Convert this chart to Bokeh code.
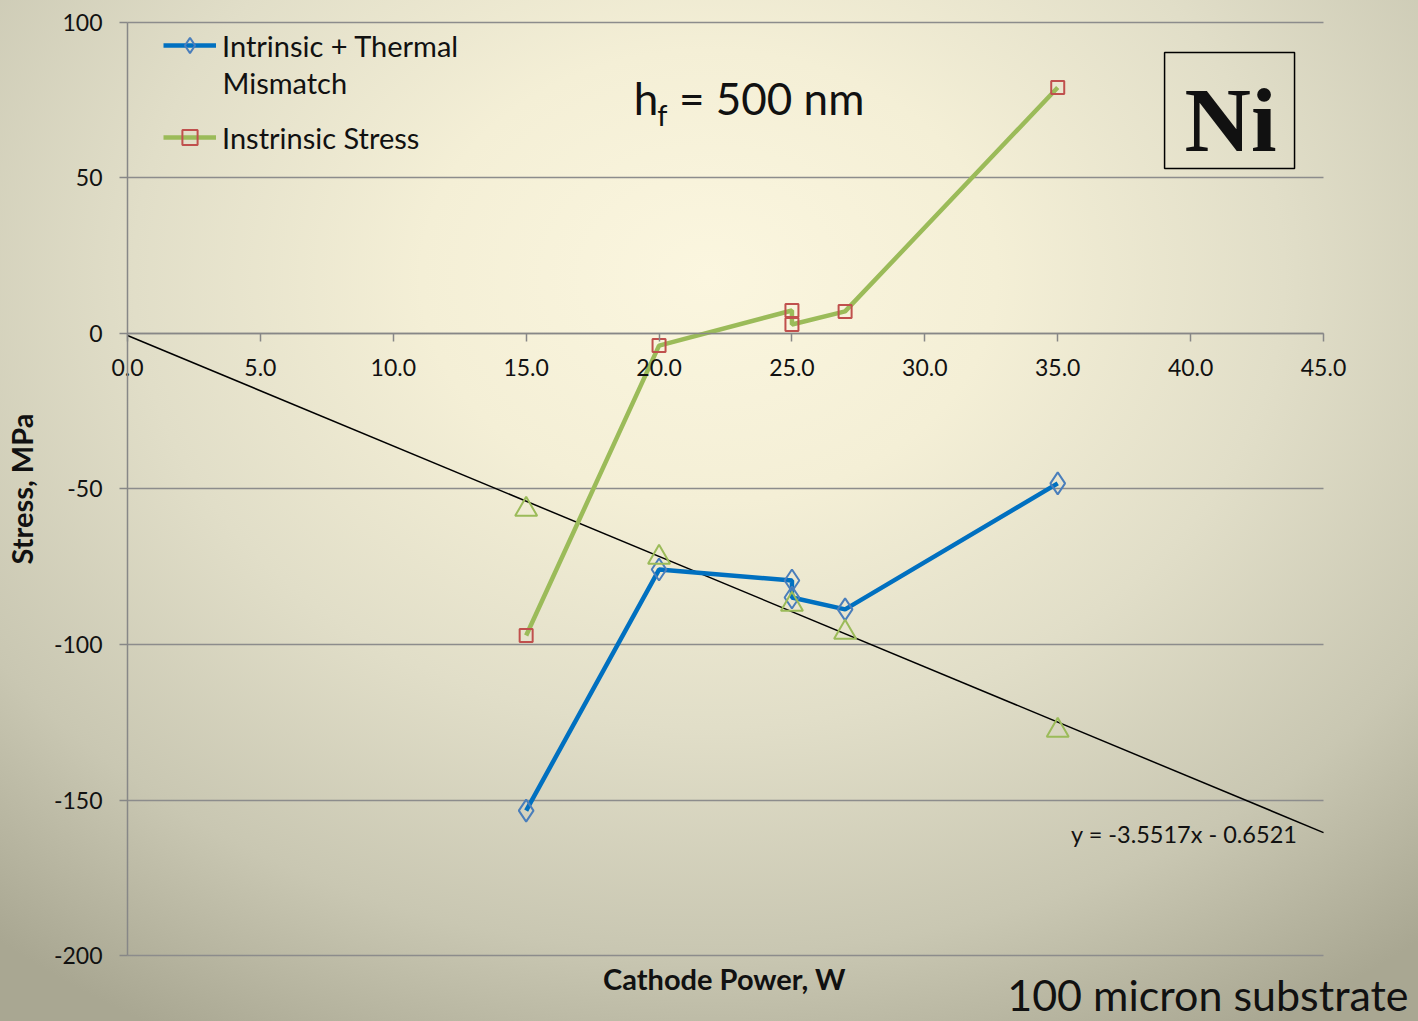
from bokeh.plotting import figure
from bokeh.models import (Range1d, FixedTicker, NumeralTickFormatter, Label,
                          BoxAnnotation, Legend, LegendItem, ColumnDataSource)
from bokeh.embed import file_html
from bokeh.resources import INLINE

# Cathode power (W) and film stress (MPa), h_f = 500 nm Ni film
power_total = [15, 20, 25, 25, 27, 35]
stress_total = [-153.4, -75.9, -79.4, -84.9, -88.7, -48.2]   # intrinsic + thermal mismatch

power_intr = [15, 20, 25, 25, 27, 35]
stress_intr = [-97.1, -3.9, 7.4, 2.9, 7.1, 79.1]             # intrinsic stress

power_tri = [15, 20, 25, 27, 35]
stress_tri = [-56.6, -72.0, -87.1, -96.1, -127.6]

fit_slope = -3.5517
fit_icept = -0.6521
fit_x = [0, 45]
fit_y = [fit_slope * v + fit_icept for v in fit_x]

x_ticks = [0, 5, 10, 15, 20, 25, 30, 35, 40, 45]
y_ticks = [-200, -150, -100, -50, 0, 50, 100]

FONT = "Lato"
INK = "#111111"
BLUE = "#0070C0"
BLUE_MK = "#4A7EBB"
GREEN = "#9BBB59"
RED = "#C0504D"
AXIS_GRAY = "#878787"

# The frame spans the whole canvas; both axes sit at zero inside it.
p = figure(width=1418, height=1021, output_backend="svg", toolbar_location=None,
           x_range=Range1d(-4.778, 48.574), y_range=Range1d(-221.22, 107.07),
           min_border=0)
p.background_fill_color = None
p.border_fill_color = None
p.outline_line_color = None
p.styles = {"background": "radial-gradient(ellipse 78% 85% at 50% 27%, #fbf6df 0%, "
                          "#f4efd6 26%, #e1dec8 52%, #c9c7b2 78%, #a9a792 100%)"}

for ax in (p.xaxis, p.yaxis):
    ax.fixed_location = 0
    ax.axis_line_color = AXIS_GRAY
    ax.axis_line_width = 1.5
    ax.major_tick_line_color = AXIS_GRAY
    ax.major_tick_line_width = 1.5
    ax.major_tick_in = 0
    ax.major_tick_out = 8
    ax.minor_tick_line_color = None
    ax.major_label_text_font = FONT
    ax.major_label_text_font_size = "23px"
    ax.major_label_text_color = INK
p.xaxis.bounds = (0, 45)
p.xaxis.ticker = FixedTicker(ticks=x_ticks)
p.xaxis.formatter = NumeralTickFormatter(format="0.0")
p.xaxis.major_label_standoff = 18
p.yaxis.bounds = (-200, 100)
p.yaxis.ticker = FixedTicker(ticks=y_ticks)
p.yaxis.formatter = NumeralTickFormatter(format="0")
p.yaxis.major_label_standoff = 17
p.yaxis.axis_label = "Stress, MPa"
p.yaxis.axis_label_text_font = FONT
p.yaxis.axis_label_text_font_style = "bold"
p.yaxis.axis_label_text_font_size = "29px"
p.yaxis.axis_label_text_color = INK
p.yaxis.axis_label_standoff = 12

p.xgrid.grid_line_color = None
p.ygrid.ticker = FixedTicker(ticks=y_ticks)
p.ygrid.grid_line_color = "#8c8c8c"
p.ygrid.grid_line_width = 1.5
p.ygrid.bounds = (-200, 100)
p.ygrid.cross_bounds = (0, 45)

# linear fit
p.line(fit_x, fit_y, line_color="black", line_width=1.5)

# series
src_tot = ColumnDataSource(dict(x=power_total, y=stress_total))
src_int = ColumnDataSource(dict(x=power_intr, y=stress_intr))
l1 = p.line("x", "y", source=src_tot, line_color=BLUE, line_width=4.5)
m1 = p.scatter("x", "y", source=src_tot, marker="diamond", size=22,
               fill_color=None, line_color=BLUE_MK, line_width=2)
l2 = p.line("x", "y", source=src_int, line_color=GREEN, line_width=4.5)
m2 = p.scatter("x", "y", source=src_int, marker="square", size=13,
               fill_color=None, line_color=RED, line_width=2)
p.scatter(power_tri, stress_tri, marker="triangle", size=22,
          fill_color=None, line_color=GREEN, line_width=2)

legend = Legend(items=[LegendItem(label="Intrinsic + Thermal", renderers=[l1, m1]),
                       LegendItem(label="Instrinsic Stress", renderers=[l2, m2])],
                location=(163, 865))
legend.background_fill_color = None
legend.border_line_color = None
legend.padding = 0
legend.margin = 0
legend.glyph_width = 53
legend.glyph_height = 38
legend.label_standoff = 6
legend.spacing = 54
legend.label_text_font = FONT
legend.label_text_font_size = "29px"
legend.label_text_color = INK
p.add_layout(legend)
p.add_layout(Label(x=3.574, y=80.55, text="Mismatch", text_font=FONT,
                   text_font_size="29px", text_color=INK, text_baseline="middle"))

# film thickness
p.add_layout(Label(x=19.05, y=75.88, text="h", text_font=FONT, text_font_size="44px",
                   text_color=INK, text_baseline="middle"))
p.add_layout(Label(x=19.93, y=70.3, text="f", text_font=FONT, text_font_size="29px",
                   text_color=INK, text_baseline="middle"))
p.add_layout(Label(x=20.75, y=75.88, text="= 500 nm", text_font=FONT, text_font_size="44px",
                   text_color=INK, text_baseline="middle"))

# element tag
p.add_layout(BoxAnnotation(left=39.02, right=43.91, top=90.35, bottom=53.06,
                           fill_color=None, fill_alpha=0, line_color="black",
                           line_alpha=1, line_width=1.5))
p.add_layout(Label(x=41.5, y=68.8, text="Ni", text_font="Liberation Serif",
                   text_font_style="bold", text_font_size="92px", text_color=INK,
                   text_align="center", text_baseline="middle"))

p.add_layout(Label(x=44.02, y=-160.8, text="y = -3.5517x - 0.6521", text_font=FONT,
                   text_font_size="23.5px", text_color=INK, text_align="right",
                   text_baseline="middle"))
p.add_layout(Label(x=22.46, y=-207.5, text="Cathode Power, W", text_font=FONT,
                   text_font_style="bold", text_font_size="29px", text_color=INK,
                   text_align="center", text_baseline="middle"))
p.add_layout(Label(x=48.2, y=-212.4, text="100 micron substrate", text_font=FONT,
                   text_font_size="43px", text_color=INK, text_align="right",
                   text_baseline="middle"))

open("out.html", "w").write(file_html(p, INLINE))
